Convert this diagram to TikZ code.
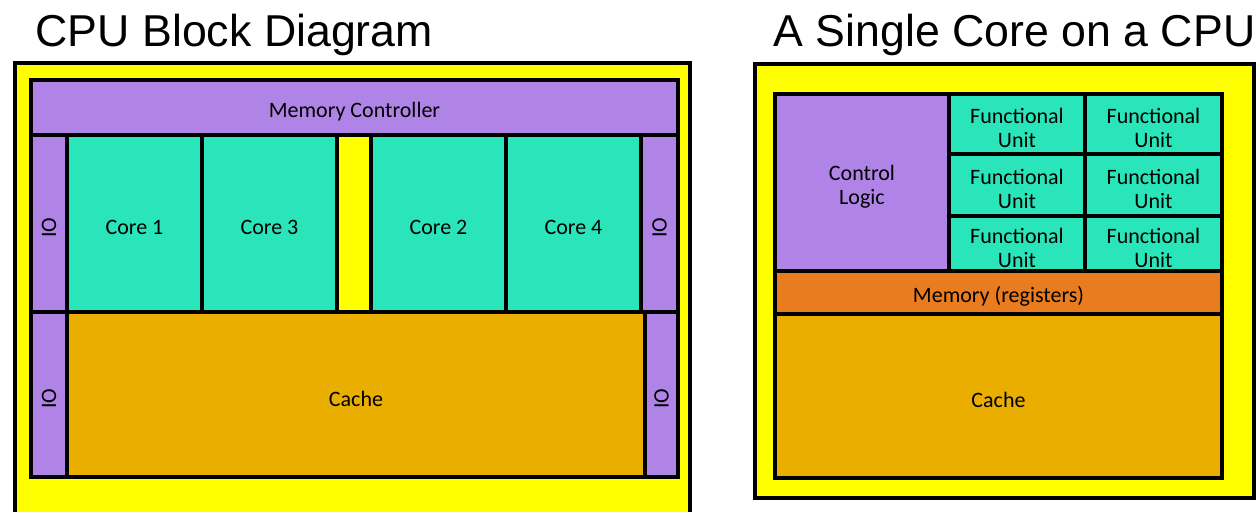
\documentclass[tikz,border=0pt]{standalone}
\usepackage{fontspec}
\setmainfont{Carlito}
\newfontfamily\titlefont{Liberation Sans}
\definecolor{chip}{HTML}{FFFF00}
\definecolor{purp}{HTML}{AF84E6}
\definecolor{core}{HTML}{2AE5B9}
\definecolor{cache}{HTML}{EAAE00}
\definecolor{regs}{HTML}{E87C1E}
\begin{document}
\begin{tikzpicture}[x=0.75pt,y=-0.75pt,
    blk/.style={draw=black,line width=3pt},
    lbl/.style={font=\fontsize{16.5}{18}\selectfont,align=center,yshift=-3pt},
    ttl/.style={anchor=base west,font=\titlefont\fontsize{33.5}{36}\selectfont}]
    \clip (0,0) rectangle (1257,511);
    % CPU block diagram
    \node[ttl] (cputitle) at (31,46) {CPU Block Diagram};
    \draw[blk,fill=chip] (15,63) rectangle (690,530);
    \draw[blk,fill=purp] (31,80) rectangle node[lbl] (memctl) {Memory Controller} (678,135);
    \draw[blk,fill=purp] (31,135) rectangle node[lbl,rotate=90] (io1) {IO} (67,312);
    \draw[blk,fill=core] (67,135) rectangle node[lbl] (core1) {Core 1} (202,312);
    \draw[blk,fill=core] (202,135) rectangle node[lbl] (core3) {Core 3} (337,312);
    \draw[blk,fill=chip] (337,135) rectangle (371,312);
    \draw[blk,fill=core] (371,135) rectangle node[lbl] (core2) {Core 2} (506,312);
    \draw[blk,fill=core] (506,135) rectangle node[lbl] (core4) {Core 4} (641,312);
    \draw[blk,fill=purp] (641,135) rectangle node[lbl,rotate=90] (io2) {IO} (678,312);
    \draw[blk,fill=purp] (31,312) rectangle node[lbl,rotate=90] (io3) {IO} (67,477);
    \draw[blk,fill=cache] (67,312) rectangle node[lbl] (cache) {Cache} (645,477);
    \draw[blk,fill=purp] (645,312) rectangle node[lbl,rotate=90] (io4) {IO} (678,477);
    % a single core
    \node[ttl] (coretitle) at (769,46) {A Single Core on a CPU};
    \draw[blk,fill=chip] (755,64) rectangle (1254,498);
    \draw[blk,fill=purp] (775,94) rectangle node[lbl] (ctrl) {Control\\Logic} (949,271);
    \foreach \row/\top/\bot in {1/94/154,2/154/216,3/216/271}
        \foreach \col/\lft/\rgt in {1/949/1085,2/1085/1222}
            \draw[blk,fill=core] (\lft,\top) rectangle node[lbl] (fu\row\col) {Functional\\Unit} (\rgt,\bot);
    \draw[blk,fill=regs] (775,271) rectangle node[lbl] (regs) {Memory (registers)} (1222,314);
    \draw[blk,fill=cache] (775,314) rectangle node[lbl] (corecache) {Cache} (1222,478);
\end{tikzpicture}
\end{document}
